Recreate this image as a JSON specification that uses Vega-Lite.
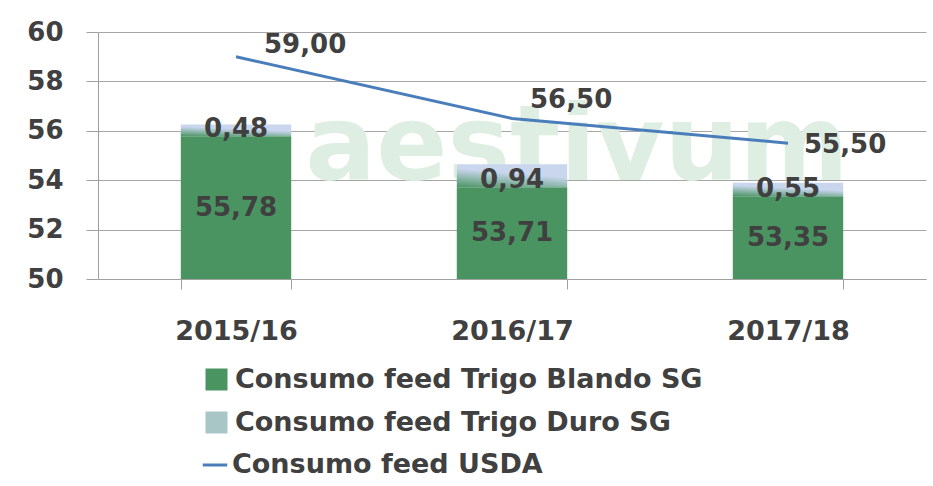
{
  "$schema": "https://vega.github.io/schema/vega-lite/v6.json",
  "width": 828,
  "height": 247,
  "autosize": {"type": "none"},
  "padding": {"left": 98, "top": 32, "right": 7, "bottom": 207},
  "background": "white",
  "config": {
    "locale": {"number": {"decimal": ",", "thousands": ".", "grouping": [3], "currency": ["", " €"]}},
    "view": {"stroke": null},
    "font": "DejaVu Sans"
  },
  "data": {"values": [
    {"year": "2015/16", "blando": 55.78, "duro": 0.48, "usda": 59.0},
    {"year": "2016/17", "blando": 53.71, "duro": 0.94, "usda": 56.5},
    {"year": "2017/18", "blando": 53.35, "duro": 0.55, "usda": 55.5}
  ]},
  "encoding": {
    "x": {
      "field": "year", "type": "nominal",
      "scale": {"paddingInner": 0.6, "paddingOuter": 0.3},
      "axis": {"title": null, "labelAngle": 0, "tickBand": "extent", "tickSize": 10, "labelPadding": 29,
               "labelFontSize": 27, "labelFontWeight": "bold", "labelColor": "#404040", "labelFont": "DejaVu Sans",
               "domainColor": "#a0a0a0", "tickColor": "#a0a0a0"}
    }
  },
  "layer": [
    {
      "layer": [
        {
          "data": {"values": [{"t": "aestivum"}]},
          "mark": {"type": "text", "fontSize": 105, "fontWeight": "bold", "color": "#dfeee2", "dx": 65, "font": "DejaVu Sans"},
          "encoding": {
            "x": {"datum": "2016/17", "type": "nominal"},
            "y": {"datum": 55.3, "type": "quantitative"},
            "text": {"field": "t"}
          }
        },
        {
          "transform": [{"fold": ["blando", "duro"], "as": ["series", "value"]}],
          "mark": {"type": "bar"},
          "encoding": {
            "y": {
              "field": "value", "type": "quantitative", "stack": "zero",
              "scale": {"domain": [50, 60], "zero": false, "clamp": true, "nice": false},
              "axis": {"title": null, "values": [50, 52, 54, 56, 58, 60], "tickSize": 12, "labelPadding": 23,
                       "labelFontSize": 26, "labelFontWeight": "bold", "labelColor": "#404040", "labelFont": "DejaVu Sans",
                       "domainColor": "#a0a0a0", "tickColor": "#a0a0a0", "grid": true, "gridColor": "#a6a6a6"}
            },
            "fill": {
              "condition": {"test": "datum.series == 'duro'",
                "value": {"gradient": "linear", "x1": 0, "y1": 1, "x2": 0.4, "y2": 0,
                 "stops": [{"offset": 0, "color": "#4a9462"}, {"offset": 0.7, "color": "#c9d6ee"}]}},
              "field": "series", "type": "nominal",
              "scale": {"domain": ["blando", "duro"], "range": ["#4a9462", "#a9c6c6"]},
              "legend": {"title": null, "orient": "none", "legendX": 105, "legendY": 334, "padding": 0,
                         "symbolType": "square", "symbolSize": 484, "symbolStrokeWidth": 0,
                         "labelFontSize": 27, "labelFontWeight": "bold", "labelColor": "#404040", "labelFont": "DejaVu Sans",
                         "rowPadding": 15, "labelOffset": 5, "labelLimit": 900,
                         "labelExpr": "datum.label == 'blando' ? 'Consumo feed Trigo Blando SG' : 'Consumo feed Trigo Duro SG'"}
            },
            "order": {"field": "series"}
          }
        },
        {
          "mark": {"type": "line", "strokeWidth": 3},
          "encoding": {
            "y": {"field": "usda", "type": "quantitative"},
            "stroke": {
              "datum": "Consumo feed USDA", "type": "nominal",
              "scale": {"range": ["#4a7ebb"]},
              "legend": {"title": null, "orient": "none", "legendX": 103, "legendY": 419, "padding": 0,
                         "symbolType": "stroke", "symbolSize": 600, "symbolStrokeWidth": 3,
                         "labelFontSize": 27, "labelFontWeight": "bold", "labelColor": "#404040", "labelFont": "DejaVu Sans",
                         "labelOffset": 3, "labelLimit": 900}
            }
          }
        },
        {
          "mark": {"type": "text", "fontSize": 26, "fontWeight": "bold", "color": "#404040", "dy": -7, "font": "DejaVu Sans"},
          "encoding": {
            "y": {"field": "blando", "type": "quantitative"},
            "text": {"field": "duro", "type": "quantitative", "format": ".2f"}
          }
        },
        {
          "transform": [{"filter": "datum.year == '2015/16'"}],
          "mark": {"type": "text", "fontSize": 26, "fontWeight": "bold", "color": "#404040", "align": "left", "dx": 28, "dy": -12, "font": "DejaVu Sans"},
          "encoding": {
            "y": {"field": "usda", "type": "quantitative"},
            "text": {"field": "usda", "type": "quantitative", "format": ".2f"}
          }
        },
        {
          "transform": [{"filter": "datum.year == '2016/17'"}],
          "mark": {"type": "text", "fontSize": 26, "fontWeight": "bold", "color": "#404040", "align": "left", "dx": 18, "dy": -18, "font": "DejaVu Sans"},
          "encoding": {
            "y": {"field": "usda", "type": "quantitative"},
            "text": {"field": "usda", "type": "quantitative", "format": ".2f"}
          }
        },
        {
          "transform": [{"filter": "datum.year == '2017/18'"}],
          "mark": {"type": "text", "fontSize": 26, "fontWeight": "bold", "color": "#404040", "align": "left", "dx": 16, "dy": 2, "font": "DejaVu Sans"},
          "encoding": {
            "y": {"field": "usda", "type": "quantitative"},
            "text": {"field": "usda", "type": "quantitative", "format": ".2f"}
          }
        }
      ]
    },
    {
      "mark": {"type": "text", "fontSize": 26, "fontWeight": "bold", "color": "#404040", "font": "DejaVu Sans"},
      "encoding": {
        "y": {"field": "blando", "type": "quantitative", "scale": {"domain": [50, 70], "zero": false, "nice": false}, "axis": null},
        "text": {"field": "blando", "type": "quantitative", "format": ".2f"}
      }
    }
  ],
  "resolve": {"scale": {"y": "independent"}}
}
